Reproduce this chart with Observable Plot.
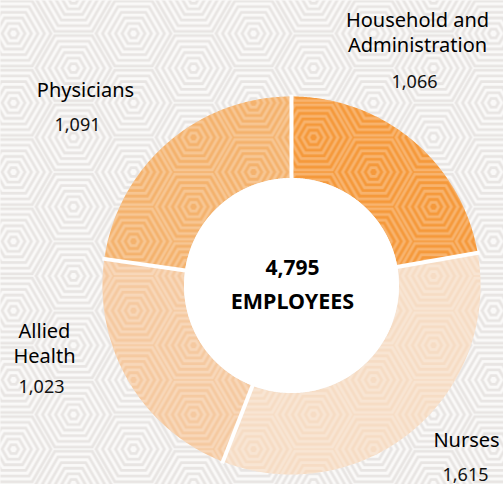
<!DOCTYPE html>
<html>
<head>
<meta charset="utf-8">
<script src="https://cdn.jsdelivr.net/npm/d3@7"></script>
<script src="https://cdn.jsdelivr.net/npm/@observablehq/plot@0.6"></script>
<style>
  html, body { margin: 0; padding: 0; background: #faf9f8; }
  #chart svg { display: block; }
</style>
</head>
<body>
<div id="chart"></div>
<script>
// ---- data ----
const categories = ["Household and Administration", "Nurses", "Allied Health", "Physicians"];
const labelLines = ["Household and\nAdministration", "Nurses", "Allied\nHealth", "Physicians"];
const values = [1066, 1615, 1023, 1091];
const valueLabels = ["1,066", "1,615", "1,023", "1,091"];
const totalLabel = "4,795";
const centerCaption = "EMPLOYEES";

// ---- styles / layout ----
const sliceColors = ["#f5993b", "#f6dcc4", "#f5c9a0", "#f4b26d"];
const innerRatio = 107.5 / 189;
const font = "Noto Sans";
// label layout offsets (pixels from top-left of frame): [nameX, nameBaseline, valueX, valueBaseline]
const labelLayout = [
  [417, 51, 414, 87],
  [466, 446, 465, 480],
  [44, 362, 41, 392],
  [85, 96, 77, 130]
];

// ---- geometry from data ----
const pie = d3.pie().sort(null).value(d => d)(values);
function slicePolygon(p, i) {
  const pts = [];
  const n = Math.max(2, Math.ceil((p.endAngle - p.startAngle) / (Math.PI / 360)));
  for (let k = 0; k <= n; k++) {
    const a = p.startAngle + (p.endAngle - p.startAngle) * k / n;
    pts.push({slice: categories[i], x: Math.sin(a), y: Math.cos(a)});
  }
  for (let k = n; k >= 0; k--) {
    const a = p.startAngle + (p.endAngle - p.startAngle) * k / n;
    pts.push({slice: categories[i], x: innerRatio * Math.sin(a), y: innerRatio * Math.cos(a)});
  }
  return pts;
}
const polys = pie.map(slicePolygon);
const holePts = d3.range(0, 721).map(k => {
  const a = k / 720 * 2 * Math.PI;
  return {x: innerRatio * Math.sin(a), y: innerRatio * Math.cos(a)};
});
const gaps = pie.map(p => ({
  x1: innerRatio * 0.98 * Math.sin(p.startAngle), y1: innerRatio * 0.98 * Math.cos(p.startAngle),
  x2: 1.01 * Math.sin(p.startAngle), y2: 1.01 * Math.cos(p.startAngle)
}));

const marks = [
  Plot.frame({fill: "#faf9f8", stroke: "none"}),
  Plot.frame({fill: "url(#hexbg)", stroke: "none"})
];
polys.forEach((pts, i) => {
  marks.push(Plot.line(pts, {x: "x", y: "y", fill: sliceColors[i], stroke: "none"}));
  marks.push(Plot.line(pts, {x: "x", y: "y", fill: "url(#hexov)", stroke: "none"}));
});
marks.push(Plot.line(holePts, {x: "x", y: "y", fill: "white", stroke: "none"}));
marks.push(Plot.link(gaps, {x1: "x1", y1: "y1", x2: "x2", y2: "y2", stroke: "white", strokeWidth: 4}));

labelLines.forEach((t, i) => {
  const [nx, ny, vx, vy] = labelLayout[i];
  marks.push(Plot.text([t], {text: d => d, frameAnchor: "top-left", dx: nx, dy: ny,
    lineAnchor: "bottom", textAnchor: "middle", lineHeight: 1.22,
    fontSize: 20, fontFamily: font, fill: "#000"}));
  marks.push(Plot.text([valueLabels[i]], {text: d => d, frameAnchor: "top-left", dx: vx, dy: vy,
    lineAnchor: "bottom", textAnchor: "middle",
    fontSize: 18, fontFamily: font, fill: "#111"}));
});
marks.push(Plot.text([totalLabel], {x: () => 0, y: () => 0, text: d => d, dy: -11, dx: 1,
  lineAnchor: "bottom", fontSize: 21, fontWeight: "bold", fontFamily: font, fill: "#000"}));
marks.push(Plot.text([centerCaption], {x: () => 0, y: () => 0, text: d => d, dy: 23, dx: 1,
  lineAnchor: "bottom", fontSize: 21.5, fontWeight: "bold", fontFamily: font, fill: "#000"}));

const svg = Plot.plot({
  width: 503,
  height: 484,
  margin: 0,
  x: {domain: [-1, 1], range: [102, 480], axis: null},
  y: {domain: [-1, 1], range: [474, 96], axis: null},
  style: {background: "transparent", overflow: "visible"},
  marks
});

// ---- decorative hexagon patterns ----
const R = 40, W = 120, H = Math.sqrt(3) * R;
const centers = [[0, 0], [W, 0], [0, H], [W, H], [W / 2, H / 2], [-W / 2, H / 2], [W * 1.5, H / 2]];
const rings = [5, 11.5, 18, 24.5, 31, 37.5];
function hexPath(cx, cy, r) {
  return d3.range(6).map(k => {
    const a = k * Math.PI / 3;
    return (k ? "L" : "M") + (cx + r * Math.cos(a)).toFixed(2) + "," + (cy + r * Math.sin(a)).toFixed(2);
  }).join("") + "Z";
}
const pathD = centers.flatMap(([cx, cy]) => rings.map(r => hexPath(cx, cy, r))).join("");
const defs = d3.select(svg).insert("defs", ":first-child");
function addPattern(id, stroke, opacity) {
  const p = defs.append("pattern").attr("id", id).attr("patternUnits", "userSpaceOnUse")
    .attr("x", 13).attr("y", 33).attr("width", W).attr("height", H);
  p.append("path").attr("d", pathD).attr("fill", "none").attr("stroke", stroke)
    .attr("stroke-width", 2.8).attr("stroke-opacity", opacity);
}
addPattern("hexbg", "#e8e5e3", 1);
addPattern("hexov", "#ffffff", 0.26);

document.getElementById("chart").appendChild(svg);
</script>
</body>
</html>
